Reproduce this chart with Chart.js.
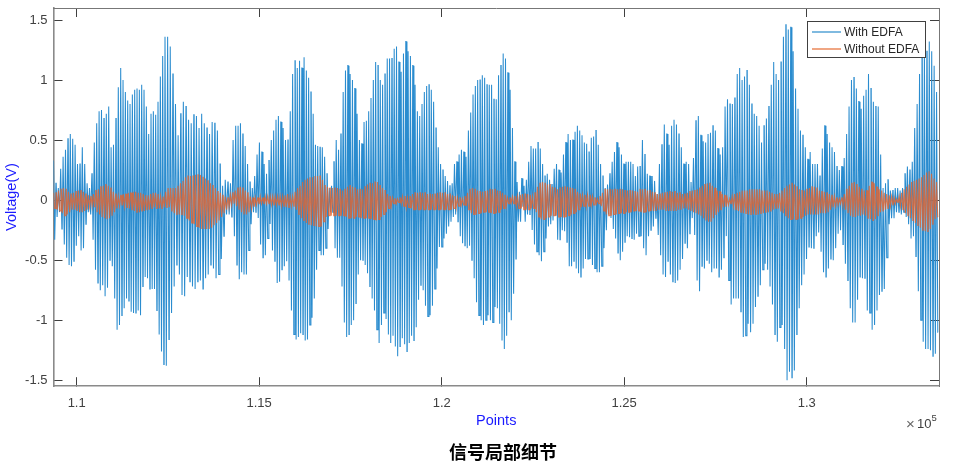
<!DOCTYPE html>
<html><head><meta charset="utf-8">
<script src="https://cdn.jsdelivr.net/npm/chart.js@4/dist/chart.umd.min.js"></script>
<style>html,body{margin:0;padding:0;background:#fff}#w{width:968px;height:470px;position:relative}canvas{filter:blur(.4px)}</style>
</head><body><div id="w"><canvas id="c"></canvas></div>
<script>
const xTickValues=[110000,115000,120000,125000,130000];
const xTickLabels=['1.1','1.15','1.2','1.25','1.3'];
const yTickValues=[-1.5,-1,-0.5,0,0.5,1,1.5];
const yTickLabels=['-1.5','-1','-0.5','0','0.5','1','1.5'];
const seriesNames=['With EDFA','Without EDFA'];
const segmentEdges=[109365,116666,125433,133625];
// pitch varies in the first stretch: cycle number -> point number
const blueAnchorCycles=[0,28,47,74,99,110];
const blueAnchorPoints=[109365,111206,112420,114357,115981,116666];

const blueTopA=[.33,.14,.10,.26,.36,.42,.51,.55,.51,.46,.30,.30,.44,.30,.14,.10,.22,.48,.64,.74,.75,.68,.72,.78,.44,.46,.68,.94,1.1,1.0,.9,.83,.8,.88,.92,.93,.92,.96,.92,.78,.55,.72,.74,.71,.82,1.03,1.2,1.36,1.36,1.28,1.05,.8,.54,.72,.82,.78,.67,.64,.71,.70,.60,.72,.64,.6,.55,.65,.64,.58,.3,.12,.17,.15,.14,.5,.62,.62,.64,.55,.45,.3,.15,.1,.2,.38,.48,.4,.3,.22,.33,.5,.58,.67,.70,.65,.6,.5,.5,.74,1.05,1.16,1.1,1.16,1.1,1.19,1.08,1.02,.9,.72,.46,.45];
const blueBotA=[-.33,-.14,-.1,-.24,-.37,-.48,-.54,-.55,-.51,-.38,-.3,-.42,-.4,-.2,-.1,-.12,-.33,-.58,-.69,-.76,-.75,-.71,-.8,-.73,-.5,-.55,-.82,-1.08,-1.04,-.96,-.9,-.82,-.84,-.93,-.94,-.94,-.92,-.96,-.72,-.64,-.65,-.74,-.74,-.74,-.92,-1.12,-1.26,-1.37,-1.38,-1.16,-.94,-.72,-.54,-.62,-.79,-.8,-.72,-.64,-.68,-.72,-.74,-.68,-.67,-.74,-.65,-.62,-.54,-.57,-.65,-.62,-.49,-.3,-.12,-.12,-.14,-.3,-.54,-.66,-.6,-.62,-.62,-.42,-.2,-.1,-.1,-.15,-.37,-.48,-.46,-.32,-.2,-.42,-.51,-.58,-.69,-.68,-.58,-.55,-.51,-.67,-.92,-1.12,-1.16,-1.14,-1.11,-1.12,-1.17,-1.16,-1.04,-.98,-.82,-.58,-.42];
const blueTopB=[.44,.44,.36,.22,.1,.12,.32,.5,.42,.55,.9,1.08,1.12,1.05,1.0,.93,.72,.5,.47,.65,.66,.74,.85,1.0,1.15,1.12,1.0,.96,1.05,1.18,1.18,1.18,1.26,1.28,1.15,1.07,1.22,1.32,1.24,1.2,1.12,.96,.74,.7,.8,.9,.95,.96,.92,.82,.6,.44,.3,.25,.2,.16,.12,.14,.3,.32,.38,.42,.4,.36,.58,.73,.88,.95,1.0,1.0,1.04,1.02,.96,.96,.96,.84,.84,1.04,1.12,1.22,1.18,1.06,.92,.6,.32,.15,.07,.18,.12,.17,.32,.45,.43,.43,.48,.43,.3,.2,.22,.17,.13,.26,.3,.25,.23,.38,.48,.55,.5,.5,.57,.62,.58,.54,.48,.47,.4,.52,.53,.58,.46,.3,.2,.1,.13,.22,.32,.4,.48,.44,.38,.3,.32,.32,.32,.3,.2,.28];
const blueBotB=[-.46,-.46,-.4,-.24,-.1,-.1,-.4,-.48,-.48,-.72,-1.02,-1.14,-1.12,-1.04,-1.0,-.86,-.62,-.5,-.54,-.61,-.72,-.82,-.92,-1.08,-1.19,-1.04,-.94,-.99,-1.12,-1.19,-1.13,-1.22,-1.3,-1.22,-1.15,-1.2,-1.26,-1.19,-1.13,-1.17,-1.06,-.83,-.71,-.75,-.88,-.97,-.96,-.88,-.74,-.57,-.39,-.32,-.28,-.22,-.18,-.14,-.12,-.18,-.3,-.36,-.38,-.4,-.38,-.5,-.65,-.85,-.96,-1.0,-1.04,-1.0,-.96,-1.0,-1.02,-.89,-.9,-1.03,-1.17,-1.24,-1.13,-.93,-1.0,-.78,-.49,-.18,-.05,-.18,-.12,-.12,-.25,-.37,-.43,-.46,-.51,-.43,-.32,-.22,-.2,-.17,-.13,-.33,-.33,-.25,-.26,-.35,-.55,-.55,-.51,-.57,-.61,-.64,-.57,-.49,-.49,-.49,-.54,-.57,-.6,-.55,-.4,-.25,-.12,-.15,-.24,-.32,-.44,-.5,-.43,-.35,-.3,-.31,-.32,-.33,-.28,-.3];
const blueTopC=[.28,.5,.38,.22,.2,.2,.16,.05,.3,.46,.63,.55,.46,.62,.67,.63,.55,.44,.3,.32,.3,.15,.35,.66,.7,.54,.49,.48,.55,.56,.62,.58,.43,.38,.44,.78,.84,.8,.8,.85,1.05,1.1,1.0,1.03,1.08,.96,.8,.72,.7,.62,.48,.62,.68,.78,.96,1.15,1.05,1.0,1.15,1.36,1.46,1.42,1.44,1.24,.93,.76,.58,.54,.44,.34,.4,.3,.3,.3,.2,.43,.62,.55,.48,.44,.4,.28,.25,.28,.35,.55,.78,1.0,1.02,.93,.82,.76,.87,.92,1.05,.93,.82,.78,.78,.38,.1,.14,.17,.08,.08,.1,.1,.08,.1,.22,.28,.25,.32,.6,.8,1.05,1.2,1.24,1.24,1.32,1.24,1.12,.9];
const blueBotC=[-.3,-.4,-.46,-.3,-.25,-.22,-.15,-.29,-.46,-.62,-.64,-.51,-.62,-.68,-.69,-.67,-.58,-.49,-.36,-.4,-.28,-.15,-.29,-.67,-.76,-.55,-.57,-.5,-.53,-.6,-.57,-.64,-.58,-.48,-.3,-.67,-.87,-.82,-.82,-.82,-.93,-1.14,-1.13,-1.03,-1.1,-1.03,-.89,-.8,-.71,-.58,-.53,-.58,-.72,-.87,-1.12,-1.18,-1.06,-1.04,-1.24,-1.5,-1.43,-1.48,-1.42,-1.12,-.9,-.71,-.62,-.49,-.39,-.4,-.4,-.3,-.27,-.43,-.6,-.64,-.57,-.49,-.5,-.4,-.28,-.25,-.37,-.53,-.67,-.9,-1.02,-1.02,-.83,-.64,-.65,-.92,-.94,-1.08,-1.04,-.92,-.79,-.76,-.74,-.48,-.2,-.15,-.15,-.1,-.1,-.12,-.1,-.14,-.2,-.32,-.3,-.47,-.76,-1.0,-1.18,-1.24,-1.24,-1.25,-1.3,-1.28,-1.1];

const orangeTopA=[.06,.06,.08,.09,.10,.09,.07,.05,.06,.07,.08,.08,.07,.05,.04,.03,.05,.08,.09,.11,.12,.13,.12,.10,.07,.05,.03,.04,.05,.05,.06,.06,.07,.07,.06,.06,.05,.04,.04,.05,.06,.06,.05,.03,.03,.07,.10,.10,.10,.10,.12,.14,.16,.19,.20,.20,.20,.21,.21,.21,.19,.18,.16,.14,.12,.10,.07,.06,.04,.03,.02,.04,.06,.08,.10,.11,.10,.08,.06,.03,.02,.02,.02,.03,.02,.03,.03,.03,.03,.03,.03,.03,.03,.04,.05,.03,.03,.07,.10,.12,.15,.17,.18,.19,.19,.20,.20];
const orangeBotA=[-.07,-.08,-.09,-.11,-.13,-.12,-.10,-.08,-.08,-.09,-.10,-.10,-.09,-.08,-.06,-.05,-.06,-.10,-.12,-.14,-.15,-.16,-.15,-.13,-.10,-.07,-.05,-.04,-.05,-.06,-.07,-.08,-.09,-.10,-.10,-.09,-.09,-.08,-.08,-.07,-.06,-.07,-.07,-.07,-.06,-.06,-.06,-.09,-.11,-.12,-.12,-.12,-.13,-.15,-.17,-.19,-.20,-.22,-.23,-.24,-.24,-.24,-.24,-.23,-.21,-.19,-.17,-.14,-.11,-.08,-.06,-.04,-.03,-.05,-.08,-.10,-.12,-.12,-.10,-.07,-.05,-.04,-.03,-.03,-.03,-.03,-.03,-.04,-.04,-.04,-.04,-.05,-.05,-.06,-.06,-.05,-.05,-.08,-.12,-.15,-.17,-.19,-.20,-.21,-.21,-.22,-.22];
const orangeTopB=[.20,.17,.12,.11,.10,.10,.10,.10,.09,.08,.09,.11,.12,.11,.10,.09,.09,.09,.11,.13,.14,.14,.15,.15,.12,.10,.08,.05,.03,.02,.01,.01,.02,.03,.03,.02,.03,.05,.06,.06,.06,.06,.06,.05,.05,.05,.05,.06,.06,.06,.06,.05,.05,.04,.03,.02,.02,.01,.03,.06,.09,.10,.09,.08,.07,.07,.07,.08,.09,.09,.09,.08,.07,.06,.04,.02,.02,.03,.03,.03,.04,.05,.05,.05,.04,.03,.06,.11,.14,.15,.14,.13,.13,.11,.10,.09,.10,.11,.11,.11,.10,.10,.09,.07,.05,.04,.04,.04,.04,.03,.02,.01,.03,.06,.09,.09,.09,.09,.09,.09,.09,.09,.08,.08,.08,.08,.07,.07];
const orangeBotB=[-.22,-.18,-.14,-.13,-.13,-.13,-.13,-.13,-.13,-.13,-.14,-.15,-.15,-.15,-.14,-.14,-.15,-.15,-.15,-.15,-.16,-.16,-.17,-.16,-.14,-.12,-.10,-.07,-.05,-.03,-.03,-.02,-.03,-.05,-.06,-.06,-.07,-.08,-.08,-.08,-.08,-.08,-.08,-.08,-.08,-.08,-.08,-.08,-.08,-.08,-.08,-.08,-.08,-.07,-.06,-.05,-.04,-.04,-.05,-.08,-.11,-.12,-.12,-.11,-.11,-.10,-.10,-.10,-.11,-.11,-.11,-.10,-.08,-.07,-.05,-.03,-.02,-.03,-.05,-.07,-.07,-.08,-.08,-.08,-.07,-.07,-.10,-.14,-.16,-.16,-.15,-.14,-.13,-.13,-.13,-.14,-.14,-.14,-.14,-.13,-.12,-.11,-.10,-.08,-.06,-.05,-.05,-.05,-.04,-.04,-.03,-.03,-.05,-.09,-.12,-.13,-.13,-.12,-.12,-.11,-.11,-.11,-.10,-.10,-.10,-.09,-.09,-.09];
const orangeTopC=[.09,.09,.09,.08,.08,.07,.06,.05,.05,.06,.06,.07,.07,.07,.07,.06,.06,.05,.05,.06,.07,.08,.08,.09,.10,.12,.13,.14,.14,.12,.10,.08,.07,.05,.04,.02,.01,.03,.05,.06,.07,.08,.08,.08,.09,.09,.09,.09,.09,.08,.08,.08,.07,.06,.05,.05,.06,.08,.10,.12,.13,.14,.13,.11,.09,.08,.08,.09,.10,.11,.11,.10,.08,.07,.07,.06,.05,.04,.03,.02,.01,.02,.05,.09,.12,.14,.15,.13,.11,.09,.08,.08,.12,.15,.14,.11,.09,.08,.06,.05,.04,.03,.02,.01,.03,.06,.09,.11,.13,.15,.16,.17,.18,.19,.21,.23,.24,.22,.18,.15];
const orangeBotC=[-.10,-.10,-.10,-.09,-.09,-.09,-.09,-.08,-.08,-.08,-.09,-.09,-.09,-.09,-.09,-.08,-.08,-.07,-.07,-.08,-.09,-.10,-.11,-.12,-.13,-.15,-.17,-.18,-.18,-.15,-.12,-.10,-.08,-.06,-.05,-.04,-.03,-.05,-.08,-.09,-.10,-.11,-.11,-.12,-.12,-.12,-.12,-.12,-.11,-.11,-.10,-.10,-.09,-.08,-.07,-.07,-.09,-.11,-.13,-.15,-.16,-.16,-.16,-.16,-.15,-.14,-.13,-.12,-.12,-.12,-.12,-.12,-.11,-.11,-.11,-.10,-.08,-.06,-.05,-.04,-.03,-.05,-.08,-.11,-.13,-.14,-.14,-.13,-.13,-.12,-.13,-.15,-.16,-.17,-.16,-.13,-.10,-.09,-.08,-.07,-.05,-.04,-.03,-.02,-.05,-.08,-.11,-.13,-.15,-.17,-.19,-.21,-.23,-.25,-.26,-.26,-.24,-.20,-.16,-.14];

const blueSegments=[[blueTopA,blueBotA],[blueTopB,blueBotB],[blueTopC,blueBotC]];
const orangeSegments=[[orangeTopA,orangeBotA],[orangeTopB,orangeBotB],[orangeTopC,orangeBotC]];

function anchoredX(c){
  let k=0;while(k<blueAnchorCycles.length-2 && c>blueAnchorCycles[k+1])k++;
  const a=blueAnchorCycles[k],b=blueAnchorCycles[k+1];
  return blueAnchorPoints[k]+(c-a)/(b-a)*(blueAnchorPoints[k+1]-blueAnchorPoints[k]);
}
function zigzag(segments,useAnchors){
  const pts=[];
  segments.forEach(([tops,bots],s)=>{
    const x0=segmentEdges[s],dx=(segmentEdges[s+1]-x0)/tops.length;
    const at=(useAnchors&&s===0)?anchoredX:(c=>x0+c*dx);
    tops.forEach((t,i)=>{
      const b=bots[Math.round(i*(bots.length-1)/(tops.length-1))];
      // each crest and trough holds for a moment, as the sampled wave does
      pts.push({x:at(i),y:t});
      pts.push({x:at(i+.12),y:t});
      pts.push({x:at(i+.5),y:b});
      pts.push({x:at(i+.62),y:b});
    });
  });
  return pts;
}

const FONT='"Liberation Sans",Arial,sans-serif';
const TICK='#404040';
const noPad=s=>{s.paddingTop=0;s.paddingBottom=0;s.paddingLeft=0;s.paddingRight=0;};
const overlay={
  id:'overlay',
  afterLayout(chart){
    const t=chart.titleBlock;
    if(t){t.left=403;t.right=603;}
  },
  afterDraw(chart){
    const c=chart.ctx;c.save();
    c.fillStyle='#fff';c.strokeStyle='#404040';c.lineWidth=1;
    c.fillRect(807.5,21.5,118,36);c.strokeRect(807.5,21.5,118,36);
    const rows=[[32,'#2a8ccb'],[49,'#e66a30']];
    rows.forEach(([y,col],i)=>{
      c.strokeStyle=col;c.lineWidth=1.2;c.beginPath();c.moveTo(812,y);c.lineTo(841,y);c.stroke();
      c.fillStyle='#262626';c.font='12px '+FONT;c.textBaseline='middle';c.textAlign='left';
      c.fillText(seriesNames[i],844,y+.5);
    });
    c.textBaseline='alphabetic';
    c.fillStyle='#666';c.font='15px '+FONT;c.fillText('×',906,429);
    c.fillStyle=TICK;c.font='13px '+FONT;c.fillText('10',917,428);
    c.font='9.5px '+FONT;c.fillText('5',931.5,421);
    c.restore();
  }
};

const hiddenAxis=(pos,values)=>({
  position:pos,type:'linear',display:true,
  afterBuildTicks:s=>{s.ticks=values.map(v=>({value:v}));},
  ticks:{display:false},
  grid:{drawOnChartArea:false,drawTicks:true,tickLength:-9,tickColor:'#404040',tickWidth:1},
  border:{display:true,color:'#777',width:1},
  afterFit:s=>{noPad(s);if(pos==='top')s.height=0;else s.width=0;}
});

new Chart(document.getElementById('c'),{
  type:'line',
  data:{datasets:[
    {label:seriesNames[0],data:zigzag(blueSegments,true),borderColor:'#2a8ccf',borderWidth:1.05,pointRadius:0,tension:0,order:2,parsing:false},
    {label:seriesNames[1],data:zigzag(orangeSegments,false),borderColor:'rgba(226,100,48,.82)',borderWidth:1.15,pointRadius:0,tension:0,order:1,parsing:false}
  ]},
  options:{
    responsive:true,maintainAspectRatio:false,animation:false,devicePixelRatio:1,
    layout:{padding:{left:0,top:8,right:29,bottom:7.2}},
    plugins:{
      legend:{display:false},tooltip:{enabled:false},
      title:{display:true,text:'信号局部细节',position:'bottom',color:'#000',padding:0,
        font:{family:'"Noto Sans CJK SC"',size:18,weight:'bold',lineHeight:1.2}}
    },
    scales:{
      x:{type:'linear',position:'bottom',min:segmentEdges[0],max:segmentEdges[3],
        afterBuildTicks:s=>{s.ticks=xTickValues.map(v=>({value:v}));},
        ticks:{color:TICK,font:{family:FONT,size:13},padding:18,maxRotation:0,autoSkip:false,
          callback:v=>xTickLabels[xTickValues.indexOf(v)]},
        grid:{drawOnChartArea:false,tickLength:-9,tickColor:'#404040'},
        border:{color:'#8a8a8a',width:1.6},
        title:{display:true,text:'Points',color:'#1a1aff',font:{family:FONT,size:14.5,lineHeight:1.2},padding:{top:0,bottom:11.3}},
        afterFit:s=>{noPad(s);s.height=55;}
      },
      y:{type:'linear',position:'left',min:-1.55,max:1.6,
        afterBuildTicks:s=>{s.ticks=yTickValues.map(v=>({value:v}));},
        ticks:{color:TICK,font:{family:FONT,size:13},padding:15,autoSkip:false,
          callback:v=>yTickLabels[yTickValues.indexOf(v)]},
        grid:{drawOnChartArea:false,tickLength:-9,tickColor:'#404040'},
        border:{color:'#8a8a8a',width:1.6},
        title:{display:true,text:'Voltage(V)',color:'#1a1aff',font:{family:FONT,size:14.5,lineHeight:1.2},padding:{top:3.3,bottom:0}},
        afterFit:s=>{noPad(s);s.width=53.5;}
      },
      x2:Object.assign(hiddenAxis('top',xTickValues),{min:segmentEdges[0],max:segmentEdges[3]}),
      y2:Object.assign(hiddenAxis('right',yTickValues),{min:-1.55,max:1.6})
    }
  },
  plugins:[overlay]
});
</script></body></html>
